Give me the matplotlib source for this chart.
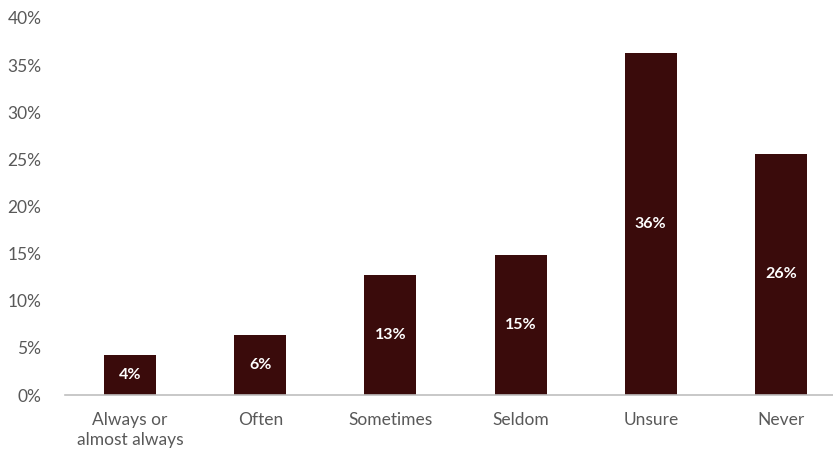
import matplotlib
matplotlib.use("Agg")
import matplotlib.pyplot as plt
from matplotlib.ticker import FuncFormatter

categories = ["Always or\nalmost always", "Often", "Sometimes", "Seldom", "Unsure", "Never"]
values = [4.2, 6.4, 12.7, 14.9, 36.3, 25.6]
yticks = [0, 5, 10, 15, 20, 25, 30, 35, 40]

plt.rcParams['font.family'] = ['Lato', 'DejaVu Sans']

fig = plt.figure(figsize=(8.33, 4.55), dpi=100)
ax = fig.add_axes([65/833, 1 - 395/455, (833-65)/833, (395-18)/455])

x = list(range(len(categories)))
bars = ax.bar(x, values, width=0.4, color="#3a0b0b", zorder=2)
for xi, v in zip(x, values):
    ax.text(xi, v/2, f"{round(v)}%", ha="center", va="center", color="white",
            fontsize=11.5, fontweight="bold")

ax.set_xlim(-0.5, 5.4)
ax.set_ylim(0, 40)
ax.set_yticks(yticks)
ax.yaxis.set_major_formatter(FuncFormatter(lambda v, p: f"{int(v)}%"))
ax.set_xticks(x)
ax.set_xticklabels(categories, linespacing=1.35)
ax.tick_params(axis="both", length=0, colors="#595959", labelsize=12.5)
ax.tick_params(axis="y", pad=17)
ax.tick_params(axis="x", pad=12)
for s in ["top", "right", "left"]:
    ax.spines[s].set_visible(False)
ax.spines["bottom"].set_color("#bfbfbf")
ax.spines["bottom"].set_linewidth(1.2)

fig.savefig("out.png", dpi=100, facecolor="white")
